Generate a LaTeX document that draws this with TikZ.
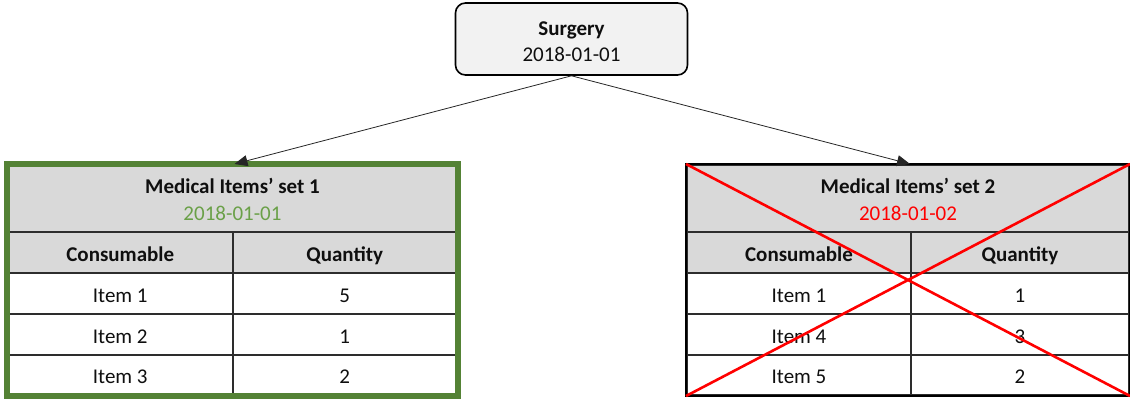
\documentclass[tikz,border=0pt]{standalone}
\usepackage{fontspec}
\setmainfont{Carlito}
\usetikzlibrary{arrows.meta}
\definecolor{framegreen}{RGB}{84,130,53}
\definecolor{dategreen}{RGB}{106,160,72}
\definecolor{headfill}{RGB}{217,217,217}
\definecolor{boxfill}{RGB}{242,242,242}
\definecolor{gridline}{RGB}{45,45,45}
\definecolor{txt}{RGB}{15,15,15}
\tikzset{
  basefont/.style={font=\fontsize{21}{26.7}\selectfont, text=txt},
  eventbox/.style={basefont, draw=black, line width=1.6pt, fill=boxfill,
    rounded corners=10pt, minimum width=232pt, minimum height=72pt,
    align=center, inner sep=0pt, text height=49.4pt, text depth=4pt},
  headcell/.style={basefont, draw=gridline, line width=2pt, fill=headfill,
    minimum height=67pt, align=center, inner sep=0pt,
    text height=48pt, text depth=4pt},
  colcell/.style={basefont, draw=gridline, line width=2pt, fill=headfill,
    minimum height=41pt, inner sep=0pt, text height=21pt, text depth=4pt,
    font=\fontsize{21}{26.7}\selectfont\bfseries},
  rowcell/.style={basefont, draw=gridline, line width=2pt, fill=white,
    minimum height=41pt, inner sep=0pt, text height=21pt, text depth=4pt},
  link/.style={draw=black!85, line width=0.8pt, -{Triangle[length=13pt,width=11pt]}},
  cross/.style={draw=red, line width=2.6pt},
}
\begin{document}
\begin{tikzpicture}[x=1pt,y=-1pt]
\useasboundingbox (0,0) rectangle (1130,399);

% top event
\node[eventbox] (surgery) at (571.5,39) {\textbf{Surgery}\\2018-01-01};

% ---- first set (valid) ----
\node[headcell, minimum width=449pt] (setA) at (232.5,198.5)
  {\textbf{Medical Items’ set 1}\\\textcolor{dategreen}{2018-01-01}};
\node[colcell, minimum width=224.5pt] (a0l) at (120.25,252.5) {Consumable};
\node[colcell, minimum width=224.5pt] (a0r) at (344.75,252.5) {Quantity};
\node[rowcell, minimum width=224.5pt] (a1l) at (120.25,293.5) {Item 1};
\node[rowcell, minimum width=224.5pt] (a1r) at (344.75,293.5) {5};
\node[rowcell, minimum width=224.5pt] (a2l) at (120.25,334.5) {Item 2};
\node[rowcell, minimum width=224.5pt] (a2r) at (344.75,334.5) {1};
\node[rowcell, minimum width=224.5pt, minimum height=40pt] (a3l) at (120.25,375) {Item 3};
\node[rowcell, minimum width=224.5pt, minimum height=40pt] (a3r) at (344.75,375) {2};
\draw[framegreen, line width=5.8pt] (a0l.west |- setA.north) rectangle (a3r.south east);

% ---- second set (rejected) ----
\node[headcell, minimum width=442pt] (setB) at (908,198.5)
  {\textbf{Medical Items’ set 2}\\\textcolor{red}{2018-01-02}};
\node[colcell, minimum width=224pt] (b0l) at (799,252.5) {Consumable};
\node[colcell, minimum width=218pt] (b0r) at (1020,252.5) {Quantity};
\node[rowcell, minimum width=224pt] (b1l) at (799,293.5) {Item 1};
\node[rowcell, minimum width=218pt] (b1r) at (1020,293.5) {1};
\node[rowcell, minimum width=224pt] (b2l) at (799,334.5) {Item 4};
\node[rowcell, minimum width=218pt] (b2r) at (1020,334.5) {3};
\node[rowcell, minimum width=224pt, minimum height=40pt] (b3l) at (799,375) {Item 5};
\node[rowcell, minimum width=218pt, minimum height=40pt] (b3r) at (1020,375) {2};
\draw[black, line width=2pt] (setB.north west) rectangle (b3r.south east);
\coordinate (bNW) at (setB.north west);
\coordinate (bNE) at (setB.north east);
\coordinate (bSW) at (b3l.south west);
\coordinate (bSE) at (b3r.south east);
\draw[cross] (bNW) -- (bSE);
\draw[cross] (bSW) -- (bNE);

% links
\draw[link] (surgery.south) -- ([xshift=2pt]setA.north);
\draw[link] (surgery.south) -- ([xshift=2pt]setB.north);
\end{tikzpicture}
\end{document}
